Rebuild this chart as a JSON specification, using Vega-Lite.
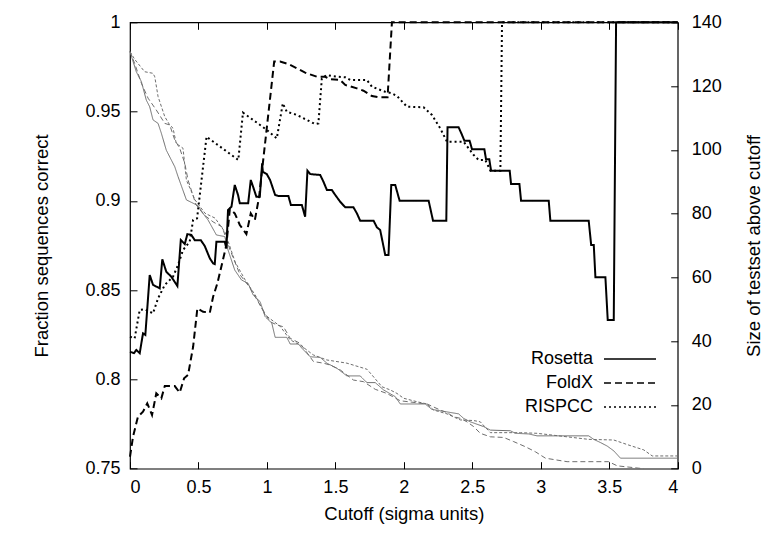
{
  "$schema": "https://vega.github.io/schema/vega-lite/v6.json",
  "autosize": {"type": "none"},
  "width": 547.7,
  "height": 446.4,
  "padding": {"left": 130, "top": 22.3, "right": 95.3, "bottom": 85.3},
  "background": "white",
  "config": {
    "view": {"stroke": "black", "strokeWidth": 1.2},
    "font": "Liberation Sans",
    "axis": {
      "domain": false, "grid": false, "tickColor": "black", "tickSize": -7, "tickWidth": 1,
      "labelFont": "Liberation Sans", "labelFontSize": 18, "labelColor": "black",
      "titleFont": "Liberation Sans", "titleFontSize": 18.5, "titleFontWeight": "normal", "titleColor": "black"
    },
    "legend": {"labelFont": "Liberation Sans", "labelFontSize": 18, "labelColor": "black"}
  },
  "datasets": {
    "correct": [
      {"m": "Rosetta", "x": 0, "f": 0.8155}, {"m": "Rosetta", "x": 0.029, "f": 0.8147}, {"m": "Rosetta", "x": 0.046, "f": 0.8165}, {"m": "Rosetta", "x": 0.071, "f": 0.8147},
      {"m": "Rosetta", "x": 0.095, "f": 0.8258}, {"m": "Rosetta", "x": 0.112, "f": 0.8249}, {"m": "Rosetta", "x": 0.144, "f": 0.8585}, {"m": "Rosetta", "x": 0.168, "f": 0.853},
      {"m": "Rosetta", "x": 0.217, "f": 0.851}, {"m": "Rosetta", "x": 0.236, "f": 0.8673}, {"m": "Rosetta", "x": 0.265, "f": 0.8603}, {"m": "Rosetta", "x": 0.302, "f": 0.8575},
      {"m": "Rosetta", "x": 0.346, "f": 0.8523}, {"m": "Rosetta", "x": 0.371, "f": 0.8781}, {"m": "Rosetta", "x": 0.4, "f": 0.8758}, {"m": "Rosetta", "x": 0.419, "f": 0.8814},
      {"m": "Rosetta", "x": 0.448, "f": 0.8809}, {"m": "Rosetta", "x": 0.473, "f": 0.878}, {"m": "Rosetta", "x": 0.517, "f": 0.878}, {"m": "Rosetta", "x": 0.546, "f": 0.8747},
      {"m": "Rosetta", "x": 0.583, "f": 0.8678}, {"m": "Rosetta", "x": 0.607, "f": 0.865}, {"m": "Rosetta", "x": 0.619, "f": 0.8646}, {"m": "Rosetta", "x": 0.631, "f": 0.8771},
      {"m": "Rosetta", "x": 0.692, "f": 0.8771}, {"m": "Rosetta", "x": 0.704, "f": 0.8734}, {"m": "Rosetta", "x": 0.716, "f": 0.8949}, {"m": "Rosetta", "x": 0.741, "f": 0.8967},
      {"m": "Rosetta", "x": 0.765, "f": 0.9089}, {"m": "Rosetta", "x": 0.789, "f": 0.9033}, {"m": "Rosetta", "x": 0.802, "f": 0.8986}, {"m": "Rosetta", "x": 0.863, "f": 0.8986},
      {"m": "Rosetta", "x": 0.882, "f": 0.9117}, {"m": "Rosetta", "x": 0.899, "f": 0.9079}, {"m": "Rosetta", "x": 0.923, "f": 0.9023}, {"m": "Rosetta", "x": 0.948, "f": 0.9023},
      {"m": "Rosetta", "x": 0.965, "f": 0.921}, {"m": "Rosetta", "x": 0.97, "f": 0.9163}, {"m": "Rosetta", "x": 0.999, "f": 0.915}, {"m": "Rosetta", "x": 1.023, "f": 0.9117},
      {"m": "Rosetta", "x": 1.06, "f": 0.9033}, {"m": "Rosetta", "x": 1.084, "f": 0.9027}, {"m": "Rosetta", "x": 1.157, "f": 0.9027}, {"m": "Rosetta", "x": 1.175, "f": 0.8977},
      {"m": "Rosetta", "x": 1.255, "f": 0.8977}, {"m": "Rosetta", "x": 1.279, "f": 0.8911}, {"m": "Rosetta", "x": 1.296, "f": 0.9169}, {"m": "Rosetta", "x": 1.316, "f": 0.915},
      {"m": "Rosetta", "x": 1.389, "f": 0.9145}, {"m": "Rosetta", "x": 1.413, "f": 0.9107}, {"m": "Rosetta", "x": 1.438, "f": 0.9061}, {"m": "Rosetta", "x": 1.474, "f": 0.9061},
      {"m": "Rosetta", "x": 1.499, "f": 0.9033}, {"m": "Rosetta", "x": 1.535, "f": 0.8995}, {"m": "Rosetta", "x": 1.572, "f": 0.8964}, {"m": "Rosetta", "x": 1.632, "f": 0.8964},
      {"m": "Rosetta", "x": 1.657, "f": 0.893}, {"m": "Rosetta", "x": 1.681, "f": 0.8889}, {"m": "Rosetta", "x": 1.779, "f": 0.8889}, {"m": "Rosetta", "x": 1.803, "f": 0.8852},
      {"m": "Rosetta", "x": 1.827, "f": 0.8837}, {"m": "Rosetta", "x": 1.864, "f": 0.8697}, {"m": "Rosetta", "x": 1.888, "f": 0.8697}, {"m": "Rosetta", "x": 1.908, "f": 0.9089},
      {"m": "Rosetta", "x": 1.937, "f": 0.9089}, {"m": "Rosetta", "x": 1.969, "f": 0.9001}, {"m": "Rosetta", "x": 2.181, "f": 0.9001}, {"m": "Rosetta", "x": 2.213, "f": 0.8889},
      {"m": "Rosetta", "x": 2.31, "f": 0.8889}, {"m": "Rosetta", "x": 2.319, "f": 0.9412}, {"m": "Rosetta", "x": 2.4, "f": 0.9412}, {"m": "Rosetta", "x": 2.425, "f": 0.9369},
      {"m": "Rosetta", "x": 2.442, "f": 0.9337}, {"m": "Rosetta", "x": 2.48, "f": 0.9337}, {"m": "Rosetta", "x": 2.498, "f": 0.9289}, {"m": "Rosetta", "x": 2.588, "f": 0.9289},
      {"m": "Rosetta", "x": 2.6, "f": 0.9233}, {"m": "Rosetta", "x": 2.624, "f": 0.9233}, {"m": "Rosetta", "x": 2.637, "f": 0.9169}, {"m": "Rosetta", "x": 2.773, "f": 0.9169},
      {"m": "Rosetta", "x": 2.783, "f": 0.9094}, {"m": "Rosetta", "x": 2.844, "f": 0.9094}, {"m": "Rosetta", "x": 2.856, "f": 0.9001}, {"m": "Rosetta", "x": 3.058, "f": 0.9001},
      {"m": "Rosetta", "x": 3.07, "f": 0.8889}, {"m": "Rosetta", "x": 3.35, "f": 0.8889}, {"m": "Rosetta", "x": 3.368, "f": 0.8753}, {"m": "Rosetta", "x": 3.387, "f": 0.8753},
      {"m": "Rosetta", "x": 3.399, "f": 0.8572}, {"m": "Rosetta", "x": 3.472, "f": 0.8572}, {"m": "Rosetta", "x": 3.489, "f": 0.8333}, {"m": "Rosetta", "x": 3.533, "f": 0.8333},
      {"m": "Rosetta", "x": 3.55, "f": 1.0}, {"m": "Rosetta", "x": 4.0, "f": 1.0},
      {"m": "FoldX", "x": 0, "f": 0.7567}, {"m": "FoldX", "x": 0.022, "f": 0.7679}, {"m": "FoldX", "x": 0.058, "f": 0.7791}, {"m": "FoldX", "x": 0.095, "f": 0.7819},
      {"m": "FoldX", "x": 0.126, "f": 0.7866}, {"m": "FoldX", "x": 0.161, "f": 0.7801}, {"m": "FoldX", "x": 0.192, "f": 0.7922}, {"m": "FoldX", "x": 0.229, "f": 0.7894},
      {"m": "FoldX", "x": 0.254, "f": 0.7963}, {"m": "FoldX", "x": 0.327, "f": 0.7963}, {"m": "FoldX", "x": 0.363, "f": 0.7926}, {"m": "FoldX", "x": 0.395, "f": 0.8006},
      {"m": "FoldX", "x": 0.424, "f": 0.8025}, {"m": "FoldX", "x": 0.461, "f": 0.8183}, {"m": "FoldX", "x": 0.492, "f": 0.8398}, {"m": "FoldX", "x": 0.534, "f": 0.8379},
      {"m": "FoldX", "x": 0.583, "f": 0.8374}, {"m": "FoldX", "x": 0.607, "f": 0.8463}, {"m": "FoldX", "x": 0.638, "f": 0.8538}, {"m": "FoldX", "x": 0.667, "f": 0.8631},
      {"m": "FoldX", "x": 0.704, "f": 0.8753}, {"m": "FoldX", "x": 0.729, "f": 0.8953}, {"m": "FoldX", "x": 0.765, "f": 0.893}, {"m": "FoldX", "x": 0.802, "f": 0.8865},
      {"m": "FoldX", "x": 0.85, "f": 0.8814}, {"m": "FoldX", "x": 0.882, "f": 0.893}, {"m": "FoldX", "x": 0.912, "f": 0.8893}, {"m": "FoldX", "x": 0.943, "f": 0.9023},
      {"m": "FoldX", "x": 1.053, "f": 0.978}, {"m": "FoldX", "x": 1.096, "f": 0.978}, {"m": "FoldX", "x": 1.157, "f": 0.9766}, {"m": "FoldX", "x": 1.219, "f": 0.9742},
      {"m": "FoldX", "x": 1.279, "f": 0.9718}, {"m": "FoldX", "x": 1.365, "f": 0.9695}, {"m": "FoldX", "x": 1.425, "f": 0.9695}, {"m": "FoldX", "x": 1.462, "f": 0.9681},
      {"m": "FoldX", "x": 1.535, "f": 0.9677}, {"m": "FoldX", "x": 1.572, "f": 0.9649}, {"m": "FoldX", "x": 1.657, "f": 0.963}, {"m": "FoldX", "x": 1.705, "f": 0.9617},
      {"m": "FoldX", "x": 1.767, "f": 0.9587}, {"m": "FoldX", "x": 1.815, "f": 0.958}, {"m": "FoldX", "x": 1.881, "f": 0.958}, {"m": "FoldX", "x": 1.913, "f": 1.0},
      {"m": "FoldX", "x": 4.0, "f": 1.0},
      {"m": "RISPCC", "x": 0, "f": 0.8239}, {"m": "RISPCC", "x": 0.034, "f": 0.823}, {"m": "RISPCC", "x": 0.071, "f": 0.8389}, {"m": "RISPCC", "x": 0.107, "f": 0.8393},
      {"m": "RISPCC", "x": 0.168, "f": 0.837}, {"m": "RISPCC", "x": 0.205, "f": 0.8454}, {"m": "RISPCC", "x": 0.254, "f": 0.8529}, {"m": "RISPCC", "x": 0.314, "f": 0.8575},
      {"m": "RISPCC", "x": 0.351, "f": 0.8641}, {"m": "RISPCC", "x": 0.387, "f": 0.8725}, {"m": "RISPCC", "x": 0.436, "f": 0.8771}, {"m": "RISPCC", "x": 0.461, "f": 0.8893},
      {"m": "RISPCC", "x": 0.49, "f": 0.8902}, {"m": "RISPCC", "x": 0.559, "f": 0.9359}, {"m": "RISPCC", "x": 0.791, "f": 0.9229}, {"m": "RISPCC", "x": 0.825, "f": 0.9494},
      {"m": "RISPCC", "x": 0.95, "f": 0.9425}, {"m": "RISPCC", "x": 0.999, "f": 0.9397}, {"m": "RISPCC", "x": 1.072, "f": 0.935}, {"m": "RISPCC", "x": 1.116, "f": 0.9546},
      {"m": "RISPCC", "x": 1.145, "f": 0.9499}, {"m": "RISPCC", "x": 1.219, "f": 0.9481}, {"m": "RISPCC", "x": 1.292, "f": 0.9453}, {"m": "RISPCC", "x": 1.352, "f": 0.943},
      {"m": "RISPCC", "x": 1.376, "f": 0.9434}, {"m": "RISPCC", "x": 1.401, "f": 0.9686}, {"m": "RISPCC", "x": 1.438, "f": 0.9705}, {"m": "RISPCC", "x": 1.474, "f": 0.9699},
      {"m": "RISPCC", "x": 1.572, "f": 0.9692}, {"m": "RISPCC", "x": 1.608, "f": 0.9677}, {"m": "RISPCC", "x": 1.73, "f": 0.9677}, {"m": "RISPCC", "x": 1.767, "f": 0.9639},
      {"m": "RISPCC", "x": 1.864, "f": 0.9611}, {"m": "RISPCC", "x": 1.913, "f": 0.9602}, {"m": "RISPCC", "x": 1.95, "f": 0.9587}, {"m": "RISPCC", "x": 2.023, "f": 0.9527},
      {"m": "RISPCC", "x": 2.144, "f": 0.9524}, {"m": "RISPCC", "x": 2.205, "f": 0.9481}, {"m": "RISPCC", "x": 2.266, "f": 0.9406}, {"m": "RISPCC", "x": 2.315, "f": 0.9331},
      {"m": "RISPCC", "x": 2.437, "f": 0.9331}, {"m": "RISPCC", "x": 2.473, "f": 0.9294}, {"m": "RISPCC", "x": 2.51, "f": 0.9257}, {"m": "RISPCC", "x": 2.546, "f": 0.9229},
      {"m": "RISPCC", "x": 2.595, "f": 0.9229}, {"m": "RISPCC", "x": 2.632, "f": 0.9169}, {"m": "RISPCC", "x": 2.705, "f": 0.9169}, {"m": "RISPCC", "x": 2.717, "f": 1.0},
      {"m": "RISPCC", "x": 4.0, "f": 1.0}
    ],
    "size": [
      {"m": "Rosetta", "x": 0, "n": 130.8}, {"m": "Rosetta", "x": 0.046, "n": 124.5}, {"m": "Rosetta", "x": 0.083, "n": 121.4}, {"m": "Rosetta", "x": 0.119, "n": 115.6},
      {"m": "Rosetta", "x": 0.144, "n": 113.5}, {"m": "Rosetta", "x": 0.168, "n": 109.4}, {"m": "Rosetta", "x": 0.205, "n": 108.3}, {"m": "Rosetta", "x": 0.229, "n": 105.2},
      {"m": "Rosetta", "x": 0.265, "n": 99.9}, {"m": "Rosetta", "x": 0.29, "n": 97.8}, {"m": "Rosetta", "x": 0.327, "n": 94.7}, {"m": "Rosetta", "x": 0.351, "n": 91.6},
      {"m": "Rosetta", "x": 0.412, "n": 84.3}, {"m": "Rosetta", "x": 0.497, "n": 82.5}, {"m": "Rosetta", "x": 0.541, "n": 79.6}, {"m": "Rosetta", "x": 0.57, "n": 78.0},
      {"m": "Rosetta", "x": 0.631, "n": 73.3}, {"m": "Rosetta", "x": 0.692, "n": 72.8}, {"m": "Rosetta", "x": 0.716, "n": 68.6}, {"m": "Rosetta", "x": 0.765, "n": 62.3},
      {"m": "Rosetta", "x": 0.814, "n": 59.2}, {"m": "Rosetta", "x": 0.863, "n": 58.1}, {"m": "Rosetta", "x": 0.899, "n": 54.5}, {"m": "Rosetta", "x": 0.95, "n": 52.4},
      {"m": "Rosetta", "x": 0.987, "n": 47.7}, {"m": "Rosetta", "x": 1.036, "n": 45.6}, {"m": "Rosetta", "x": 1.06, "n": 41.2}, {"m": "Rosetta", "x": 1.145, "n": 41.2},
      {"m": "Rosetta", "x": 1.17, "n": 39.1}, {"m": "Rosetta", "x": 1.23, "n": 39.1}, {"m": "Rosetta", "x": 1.255, "n": 37.8}, {"m": "Rosetta", "x": 1.316, "n": 35.1},
      {"m": "Rosetta", "x": 1.389, "n": 34.9}, {"m": "Rosetta", "x": 1.438, "n": 33.1}, {"m": "Rosetta", "x": 1.511, "n": 31.5}, {"m": "Rosetta", "x": 1.584, "n": 29.1},
      {"m": "Rosetta", "x": 1.681, "n": 29.1}, {"m": "Rosetta", "x": 1.73, "n": 27.0}, {"m": "Rosetta", "x": 1.791, "n": 27.0}, {"m": "Rosetta", "x": 1.852, "n": 24.7},
      {"m": "Rosetta", "x": 1.937, "n": 22.6}, {"m": "Rosetta", "x": 1.974, "n": 20.3}, {"m": "Rosetta", "x": 2.156, "n": 20.3}, {"m": "Rosetta", "x": 2.205, "n": 18.6},
      {"m": "Rosetta", "x": 2.303, "n": 17.9}, {"m": "Rosetta", "x": 2.4, "n": 17.2}, {"m": "Rosetta", "x": 2.436, "n": 15.8}, {"m": "Rosetta", "x": 2.485, "n": 14.7},
      {"m": "Rosetta", "x": 2.583, "n": 13.2}, {"m": "Rosetta", "x": 2.632, "n": 12.1}, {"m": "Rosetta", "x": 2.778, "n": 11.9}, {"m": "Rosetta", "x": 2.814, "n": 11.1},
      {"m": "Rosetta", "x": 2.912, "n": 10.9}, {"m": "Rosetta", "x": 2.973, "n": 10.3}, {"m": "Rosetta", "x": 3.35, "n": 10.3}, {"m": "Rosetta", "x": 3.387, "n": 9.2},
      {"m": "Rosetta", "x": 3.436, "n": 8.2}, {"m": "Rosetta", "x": 3.485, "n": 7.1}, {"m": "Rosetta", "x": 3.533, "n": 5.6}, {"m": "Rosetta", "x": 3.582, "n": 3.3},
      {"m": "Rosetta", "x": 4.0, "n": 3.3},
      {"m": "FoldX", "x": 0, "n": 130.8}, {"m": "FoldX", "x": 0.034, "n": 127.1}, {"m": "FoldX", "x": 0.083, "n": 120.9}, {"m": "FoldX", "x": 0.132, "n": 116.2},
      {"m": "FoldX", "x": 0.192, "n": 112.5}, {"m": "FoldX", "x": 0.254, "n": 108.3}, {"m": "FoldX", "x": 0.29, "n": 107.8}, {"m": "FoldX", "x": 0.327, "n": 103.1},
      {"m": "FoldX", "x": 0.363, "n": 100.5}, {"m": "FoldX", "x": 0.4, "n": 95.8}, {"m": "FoldX", "x": 0.424, "n": 90.5}, {"m": "FoldX", "x": 0.482, "n": 82.8},
      {"m": "FoldX", "x": 0.541, "n": 79.6}, {"m": "FoldX", "x": 0.607, "n": 77.4}, {"m": "FoldX", "x": 0.673, "n": 75.8}, {"m": "FoldX", "x": 0.731, "n": 68.6},
      {"m": "FoldX", "x": 0.804, "n": 60.8}, {"m": "FoldX", "x": 0.877, "n": 56.7}, {"m": "FoldX", "x": 0.95, "n": 51.3}, {"m": "FoldX", "x": 1.023, "n": 46.1},
      {"m": "FoldX", "x": 1.072, "n": 45.1}, {"m": "FoldX", "x": 1.121, "n": 44.5}, {"m": "FoldX", "x": 1.17, "n": 40.9}, {"m": "FoldX", "x": 1.243, "n": 39.3},
      {"m": "FoldX", "x": 1.34, "n": 33.6}, {"m": "FoldX", "x": 1.413, "n": 33.1}, {"m": "FoldX", "x": 1.462, "n": 32.5}, {"m": "FoldX", "x": 1.535, "n": 31.0},
      {"m": "FoldX", "x": 1.632, "n": 27.8}, {"m": "FoldX", "x": 1.705, "n": 27.3}, {"m": "FoldX", "x": 1.791, "n": 24.9}, {"m": "FoldX", "x": 1.876, "n": 23.6},
      {"m": "FoldX", "x": 1.974, "n": 21.3}, {"m": "FoldX", "x": 2.169, "n": 20.3}, {"m": "FoldX", "x": 2.266, "n": 18.4}, {"m": "FoldX", "x": 2.315, "n": 17.6},
      {"m": "FoldX", "x": 2.363, "n": 16.3}, {"m": "FoldX", "x": 2.412, "n": 15.8}, {"m": "FoldX", "x": 2.461, "n": 14.7}, {"m": "FoldX", "x": 2.51, "n": 13.2},
      {"m": "FoldX", "x": 2.558, "n": 11.1}, {"m": "FoldX", "x": 2.632, "n": 10.0}, {"m": "FoldX", "x": 2.729, "n": 9.8}, {"m": "FoldX", "x": 2.802, "n": 8.5},
      {"m": "FoldX", "x": 2.887, "n": 6.9}, {"m": "FoldX", "x": 2.961, "n": 5.3}, {"m": "FoldX", "x": 3.034, "n": 3.3}, {"m": "FoldX", "x": 3.192, "n": 2.2},
      {"m": "FoldX", "x": 3.496, "n": 2.2}, {"m": "FoldX", "x": 3.558, "n": 0.9}, {"m": "FoldX", "x": 3.75, "n": 0},
      {"m": "RISPCC", "x": 0, "n": 130.8}, {"m": "RISPCC", "x": 0.034, "n": 128.4}, {"m": "RISPCC", "x": 0.107, "n": 124.5}, {"m": "RISPCC", "x": 0.168, "n": 124.0},
      {"m": "RISPCC", "x": 0.181, "n": 122.9}, {"m": "RISPCC", "x": 0.205, "n": 116.7}, {"m": "RISPCC", "x": 0.254, "n": 110.4}, {"m": "RISPCC", "x": 0.29, "n": 107.8},
      {"m": "RISPCC", "x": 0.314, "n": 106.8}, {"m": "RISPCC", "x": 0.338, "n": 102.0}, {"m": "RISPCC", "x": 0.387, "n": 100.5}, {"m": "RISPCC", "x": 0.412, "n": 90.5},
      {"m": "RISPCC", "x": 0.475, "n": 84.3}, {"m": "RISPCC", "x": 0.548, "n": 80.1}, {"m": "RISPCC", "x": 0.621, "n": 78.6}, {"m": "RISPCC", "x": 0.694, "n": 74.2},
      {"m": "RISPCC", "x": 0.768, "n": 64.8}, {"m": "RISPCC", "x": 0.841, "n": 59.2}, {"m": "RISPCC", "x": 0.914, "n": 54.5}, {"m": "RISPCC", "x": 0.987, "n": 48.2},
      {"m": "RISPCC", "x": 1.096, "n": 44.7}, {"m": "RISPCC", "x": 1.17, "n": 40.4}, {"m": "RISPCC", "x": 1.243, "n": 38.8}, {"m": "RISPCC", "x": 1.338, "n": 35.7},
      {"m": "RISPCC", "x": 1.438, "n": 34.1}, {"m": "RISPCC", "x": 1.584, "n": 33.1}, {"m": "RISPCC", "x": 1.73, "n": 31.2}, {"m": "RISPCC", "x": 1.767, "n": 29.4},
      {"m": "RISPCC", "x": 1.84, "n": 25.7}, {"m": "RISPCC", "x": 1.901, "n": 24.7}, {"m": "RISPCC", "x": 1.95, "n": 23.6}, {"m": "RISPCC", "x": 1.998, "n": 22.1},
      {"m": "RISPCC", "x": 2.096, "n": 21.0}, {"m": "RISPCC", "x": 2.169, "n": 20.3}, {"m": "RISPCC", "x": 2.217, "n": 18.4}, {"m": "RISPCC", "x": 2.315, "n": 17.2},
      {"m": "RISPCC", "x": 2.412, "n": 15.3}, {"m": "RISPCC", "x": 2.51, "n": 15.1}, {"m": "RISPCC", "x": 2.558, "n": 14.7}, {"m": "RISPCC", "x": 2.632, "n": 11.3},
      {"m": "RISPCC", "x": 2.851, "n": 11.3}, {"m": "RISPCC", "x": 2.973, "n": 11.1}, {"m": "RISPCC", "x": 3.35, "n": 9.2}, {"m": "RISPCC", "x": 3.533, "n": 9.0},
      {"m": "RISPCC", "x": 3.643, "n": 7.4}, {"m": "RISPCC", "x": 3.752, "n": 5.9}, {"m": "RISPCC", "x": 3.814, "n": 4.0}, {"m": "RISPCC", "x": 4.0, "n": 4.0}
    ]
  },
  "layer": [
    {
      "data": {"name": "size"},
      "mark": {"type": "line", "color": "#6e6e6e", "strokeWidth": 1},
      "encoding": {
        "x": {"field": "x", "type": "quantitative", "scale": {"domain": [0, 4], "nice": false},
              "axis": {"orient": "top", "values": [0, 0.5, 1, 1.5, 2, 2.5, 3, 3.5, 4], "labels": false, "title": null}},
        "y": {"field": "n", "type": "quantitative", "scale": {"domain": [0, 140], "nice": false},
              "axis": {"orient": "right", "values": [0, 20, 40, 60, 80, 100, 120, 140], "format": "d", "title": "Size of testset above cutoff",
                       "labelPadding": 20.5, "titleAngle": 270, "titlePadding": 42}},
        "strokeDash": {"field": "m", "type": "nominal", "sort": null,
                       "scale": {"domain": ["Rosetta", "FoldX", "RISPCC"], "range": [[1, 0], [5, 3], [3, 2]]}, "legend": null},
        "order": {"field": "x", "type": "quantitative"}
      }
    },
    {
      "data": {"name": "correct"},
      "mark": {"type": "line", "color": "black", "strokeWidth": 2},
      "encoding": {
        "x": {"field": "x", "type": "quantitative", "scale": {"domain": [0, 4], "nice": false},
              "axis": {"orient": "bottom", "values": [0, 0.5, 1, 1.5, 2, 2.5, 3, 3.5, 4], "format": "~g", "title": "Cutoff (sigma units)",
                       "labelPadding": 16.5, "titlePadding": 8.7}},
        "y": {"field": "f", "type": "quantitative", "scale": {"domain": [0.75, 1], "nice": false, "zero": false},
              "axis": {"orient": "left", "values": [0.75, 0.8, 0.85, 0.9, 0.95, 1], "format": "~g", "title": "Fraction sequences correct",
                       "labelPadding": 17, "titlePadding": 33}},
        "strokeDash": {"field": "m", "type": "nominal", "sort": null,
                       "scale": {"domain": ["Rosetta", "FoldX", "RISPCC"], "range": [[1, 0], [7, 4], [2, 3]]},
                       "legend": {"title": null, "orient": "none", "legendX": 486, "legendY": 322.7, "padding": 0,
                                  "symbolType": "M-2,0H2", "symbolSize": 676, "symbolStrokeWidth": 1.5, "symbolStrokeColor": "black",
                                  "symbolOpacity": 1, "labelAlign": "right", "labelOffset": -51, "rowPadding": 1}},
        "order": {"field": "x", "type": "quantitative"}
      }
    }
  ],
  "resolve": {"scale": {"y": "independent", "strokeDash": "independent"}, "axis": {"x": "independent"}}
}
